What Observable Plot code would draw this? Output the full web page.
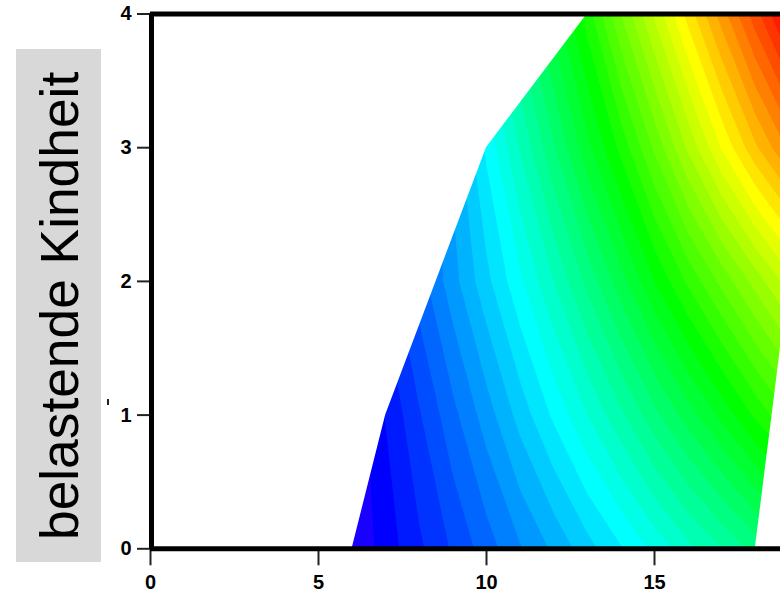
<!DOCTYPE html>
<html><head><meta charset="utf-8">
<script src="https://cdn.jsdelivr.net/npm/d3@7"></script>
<script src="https://cdn.jsdelivr.net/npm/@observablehq/plot@0.6"></script>
<style>
html,body{margin:0;padding:0;background:#fff}
#wrap{position:relative;width:780px;height:594px;overflow:hidden}
#wrap svg{display:block}
#band{position:absolute;left:16px;top:49px;width:85px;height:513px;background:#d8d8d8}
#band span{position:absolute;left:17px;top:491px;white-space:nowrap;transform-origin:0 0;transform:rotate(-90deg);font:53.3px "Liberation Sans",sans-serif;color:#000;line-height:1;display:block;height:0}
#speck{position:absolute;left:107px;top:399px;width:1.5px;height:6px;background:#222}
</style></head><body>
<div id="wrap"><div id="band"><span>belastende Kindheit</span></div><div id="speck"></div></div>
<script>
const xTicks = [0, 5, 10, 15];
const yTicks = [0, 1, 2, 3, 4];
const row0 = [-0.9, 0.46, 1.8, 3.15, 4.5, 5.9, 7.2, 8.6, 9.9, 11.3, 12.7, 14, 15.4, 16.7];
const row1 = [-0.8, 1.05, 2.9, 4.7, 6.5, 8.4, 10.2, 12, 13.8, 15.7, 17.5, 19.3, 21.2, 23];
const row2 = [0.3, 2.4, 4.5, 6.6, 8.7, 10.8, 13, 15.3, 17.6, 20, 22.2, 24.3, 26.4, 28.5];
const row3 = [-1.4, 1.5, 4.4, 7.3, 10.2, 13.1, 15.9, 18.7, 21.3, 24.2, 27.2, 30.1, 32.8, 35.2];
const row4 = [0.5, 3.5, 6.5, 9.5, 12.5, 15.5, 18.5, 21.5, 25, 28.2, 31.4, 34.5, 37.6, 40.7];
const values = [...row0, ...row1, ...row2, ...row3, ...row4];
// hull of the sampled region
const leftEdgeX = [6, 7, 8.5, 10, 13];
const leftEdgeY = [0, 1, 2, 3, 4];
const rightEdgeX = [18, 19];
const rightEdgeY = [0, 2];
const levelStops = [-10, 0, 10, 20, 30, 40];
const levelColors = ["#ff00ff", "#0000ff", "#00ffff", "#00ff00", "#ffff00", "#ff0000"];
const thresholds = d3.range(-1, 41);

const leftRows = leftEdgeX.map((x, i) => ({from: -1, to: x, y: leftEdgeY[i]}));
const rightRows = rightEdgeX.map((x, i) => ({from: x, to: 25, y: rightEdgeY[i]}));

const chart = Plot.plot({
  width: 780, height: 594,
  marginLeft: 150, marginRight: 0, marginTop: 13.5, marginBottom: 45.7,
  style: {background: "#fff", overflow: "visible", fontFamily: "Liberation Sans", fontSize: "20px", fontWeight: "bold"},
  x: {domain: [0, 630 / 33.6], axis: null},
  y: {domain: [0, 4], axis: null},
  color: {type: "linear", domain: levelStops, range: levelColors, interpolate: "rgb", clamp: true},
  marks: [
    Plot.contour(values, {
      x1: 5.5, x2: 19.5, y1: -0.5, y2: 4.5, width: 14, height: 5,
      fill: Plot.identity, stroke: "none", thresholds, clip: true
    }),
    Plot.areaX(leftRows, {y: "y", x1: "from", x2: "to", fill: "#fff", clip: true}),
    Plot.areaX(rightRows, {y: "y", x1: "from", x2: "to", fill: "#fff", clip: true}),
    Plot.axisX({ticks: xTicks, tickSize: 17, tickPadding: 9, strokeWidth: 2, stroke: "#222", color: "#000", label: null, tickFormat: d => d}),
    Plot.axisY({ticks: yTicks, tickSize: 13, tickPadding: 6, strokeWidth: 2, stroke: "#222", color: "#000", label: null, tickFormat: d => d}),
    Plot.ruleY([0, 4], {strokeWidth: 5, stroke: "#000"}),
    Plot.ruleX([0], {strokeWidth: 5, stroke: "#000", dx: 1})
  ]
});
document.getElementById("wrap").prepend(chart);
</script>
</body></html>
